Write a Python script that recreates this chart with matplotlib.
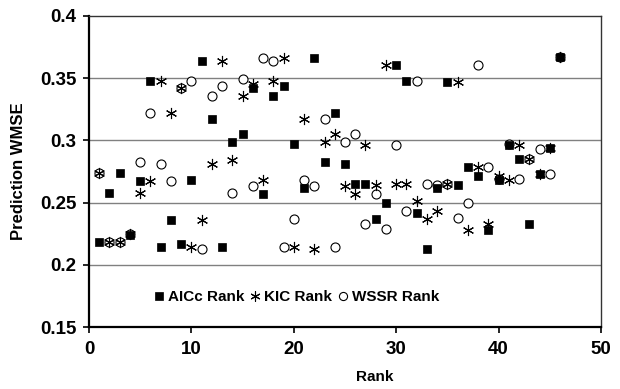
import matplotlib
matplotlib.use("Agg")
import matplotlib.pyplot as plt

ranks = list(range(1, 47))

aicc = [0.218, 0.258, 0.274, 0.224, 0.267, 0.348, 0.214, 0.236, 0.217, 0.268,
        0.364, 0.317, 0.214, 0.299, 0.305, 0.342, 0.257, 0.336, 0.344, 0.297,
        0.262, 0.366, 0.283, 0.322, 0.281, 0.265, 0.265, 0.237, 0.250, 0.361,
        0.348, 0.242, 0.213, 0.262, 0.347, 0.264, 0.279, 0.271, 0.228, 0.268,
        0.296, 0.285, 0.233, 0.273, 0.294, 0.367]

kic = [0.274, 0.218, 0.218, 0.225, 0.258, 0.267, 0.348, 0.322, 0.342, 0.214,
       0.236, 0.281, 0.364, 0.284, 0.336, 0.345, 0.268, 0.348, 0.366, 0.214,
       0.317, 0.213, 0.299, 0.305, 0.263, 0.257, 0.296, 0.264, 0.361, 0.265,
       0.265, 0.251, 0.237, 0.243, 0.265, 0.347, 0.228, 0.279, 0.233, 0.271,
       0.268, 0.296, 0.285, 0.273, 0.294, 0.367]

wssr = [0.274, 0.218, 0.218, 0.225, 0.283, 0.322, 0.281, 0.267, 0.342, 0.348,
        0.213, 0.336, 0.344, 0.258, 0.349, 0.263, 0.366, 0.364, 0.214, 0.237,
        0.268, 0.263, 0.317, 0.214, 0.299, 0.305, 0.233, 0.257, 0.229, 0.296,
        0.243, 0.348, 0.265, 0.264, 0.265, 0.238, 0.250, 0.361, 0.279, 0.269,
        0.297, 0.269, 0.285, 0.293, 0.273, 0.367]

series_labels = ["AICc Rank", "KIC Rank", "WSSR Rank"]
xticks = [0, 10, 20, 30, 40, 50]
yticks = [0.15, 0.2, 0.25, 0.3, 0.35, 0.4]
ytick_labels = ["0.15", "0.2", "0.25", "0.3", "0.35", "0.4"]

plt.rcParams['font.family'] = ['Liberation Sans', 'DejaVu Sans']
plt.rcParams['font.weight'] = 'bold'

fig = plt.figure(figsize=(6.2, 3.89), dpi=100)
ax = fig.add_axes([89/620, 1 - 327/389, (601-89)/620, (327-16)/389])

for y in [0.2, 0.25, 0.3, 0.35]:
    ax.axhline(y, color='#808080', lw=1.0, zorder=1)

ax.plot(ranks, wssr, linestyle='none', marker='o', ms=6.5, mfc='white',
        mec='black', mew=0.8, label=series_labels[2], zorder=3)
ax.plot(ranks, kic, linestyle='none', marker=(6, 2, 0), ms=8, mec='black',
        mew=0.8, label=series_labels[1], zorder=4)
ax.plot(ranks, aicc, linestyle='none', marker='s', ms=5.8, mfc='black',
        mec='black', mew=0.5, label=series_labels[0], zorder=5)

ax.set_xlim(0, 50)
ax.set_ylim(0.15, 0.4)
ax.set_xticks(xticks)
ax.set_xticklabels([str(v) for v in xticks])
ax.set_yticks(yticks)
ax.set_yticklabels(ytick_labels)
ax.tick_params(axis='both', direction='out', length=4, width=1.2,
               labelsize=13.5)
ax.tick_params(axis='y', pad=5)
ax.tick_params(axis='x', pad=6)
for lab in ax.get_xticklabels() + ax.get_yticklabels():
    lab.set_fontweight('bold')

ax.spines['left'].set_linewidth(1.6)
ax.spines['bottom'].set_linewidth(1.6)
ax.spines['top'].set_linewidth(1.0)
ax.spines['right'].set_linewidth(1.0)
ax.spines['top'].set_color('#333333')
ax.spines['right'].set_color('#333333')

ax.set_xlabel("Rank", fontsize=11, fontweight='bold')
ax.xaxis.set_label_coords((375 - 89) / 512, -(370 - 327) / 311)
ax.set_ylabel("Prediction WMSE", fontsize=12, fontweight='bold')
ax.yaxis.set_label_coords(-(89 - 26) / 512, 0.5)

handles, labels = ax.get_legend_handles_labels()
order = [2, 1, 0]
leg = ax.legend([handles[i] for i in order], [labels[i] for i in order],
                loc='lower left', bbox_to_anchor=(0.10, 0.03), ncol=3,
                frameon=False, fontsize=11, handlelength=0.6,
                handletextpad=0.3, columnspacing=0.4, markerscale=0.9)
for t in leg.get_texts():
    t.set_fontweight('bold')

fig.savefig("out.png", dpi=100)
